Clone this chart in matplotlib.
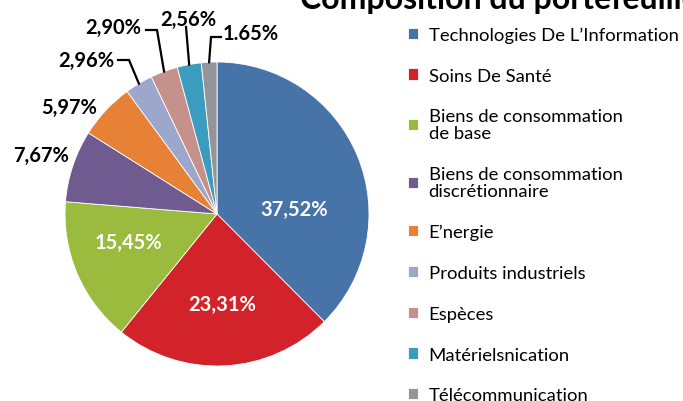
import matplotlib
matplotlib.use("Agg")
import matplotlib.pyplot as plt
import numpy as np

# data
categories = [
    "Technologies De L\u2019Information",
    "Soins De Sant\u00e9",
    "Biens de consommation\nde base",
    "Biens de consommation\ndiscr\u00e9tionnaire",
    "E\u2019nergie",
    "Produits industriels",
    "Esp\u00e8ces",
    "Mat\u00e9rielsnication",
    "T\u00e9l\u00e9communication",
]
values = [37.52, 23.31, 15.45, 7.67, 5.97, 2.96, 2.90, 2.56, 1.65]
value_labels = ["37,52%", "23,31%", "15,45%", "7,67%", "5,97%",
                "2,96%", "2,90%", "2,56%", "1.65%"]
colors = ["#4674a9", "#d2232a", "#9bbb3e", "#6f5b8f", "#e68135",
          "#9da6cb", "#c6918b", "#3b9cbf", "#939598"]

W, H = 683, 402
fig = plt.figure(figsize=(W / 100, H / 100), dpi=100)

# pie centre (217, 215) px, radius 152 px
cx, cy, r = 217, 215, 152
ax = fig.add_axes([(cx - r) / W, (H - cy - r) / H, 2 * r / W, 2 * r / H])

wedges, _ = ax.pie(values, colors=colors, startangle=90, counterclock=False,
                   radius=1.0, wedgeprops=dict(linewidth=0.6, edgecolor="white"))
ax.set_xlim(-1, 1)
ax.set_ylim(-1, 1)
ax.axis("off")


def px(x, y):
    # figure pixel -> pie data coords
    return (x - cx) / r, (cy - y) / r


# label positions (px) and text colour
label_pos = [(294, 210), (222, 305), (128, 243), (41, 156), (69, 108),
             (86, 61), (113, 28), (188, 20), (251, 34)]
for i, (lab, pos) in enumerate(zip(value_labels, label_pos)):
    inside = i < 3
    x, y = px(*pos)
    ax.text(x, y, lab, ha="center", va="center", fontsize=14.5,
            fontweight="bold", family="Lato",
            color="white" if inside else "black", clip_on=False)

# leader lines for small slices: start point and elbow (px), end on the edge
leaders = {
    5: [(118, 61), (129, 61)],
    6: [(146, 31), (157, 31)],
    7: [(186, 28)],
    8: [(221, 38), (211, 38)],
}
for i, pts in leaders.items():
    w = wedges[i]
    mid = np.deg2rad((w.theta1 + w.theta2) / 2)
    xs = [px(*p)[0] for p in pts] + [np.cos(mid)]
    ys = [px(*p)[1] for p in pts] + [np.sin(mid)]
    ax.plot(xs, ys, color="black", lw=1.6, clip_on=False,
            solid_joinstyle="miter")

# title (cut at top and right like the source)
fig.text(300 / W, 1 - 9 / H, "Composition du portefeuille", ha="left",
         va="baseline", fontsize=23, fontweight="bold", family="Lato")

leg = fig.legend(wedges, categories, loc="upper left",
                 bbox_to_anchor=(408 / W, 1 - 27.5 / H), frameon=False,
                 prop=dict(family="Lato", size=13.3), handlelength=0.56,
                 handleheight=0.56, handletextpad=0.55, labelspacing=1.34,
                 borderpad=0, borderaxespad=0)
for t in leg.get_texts():
    t.set_linespacing(1.08)

fig.savefig("out.png", dpi=100)
